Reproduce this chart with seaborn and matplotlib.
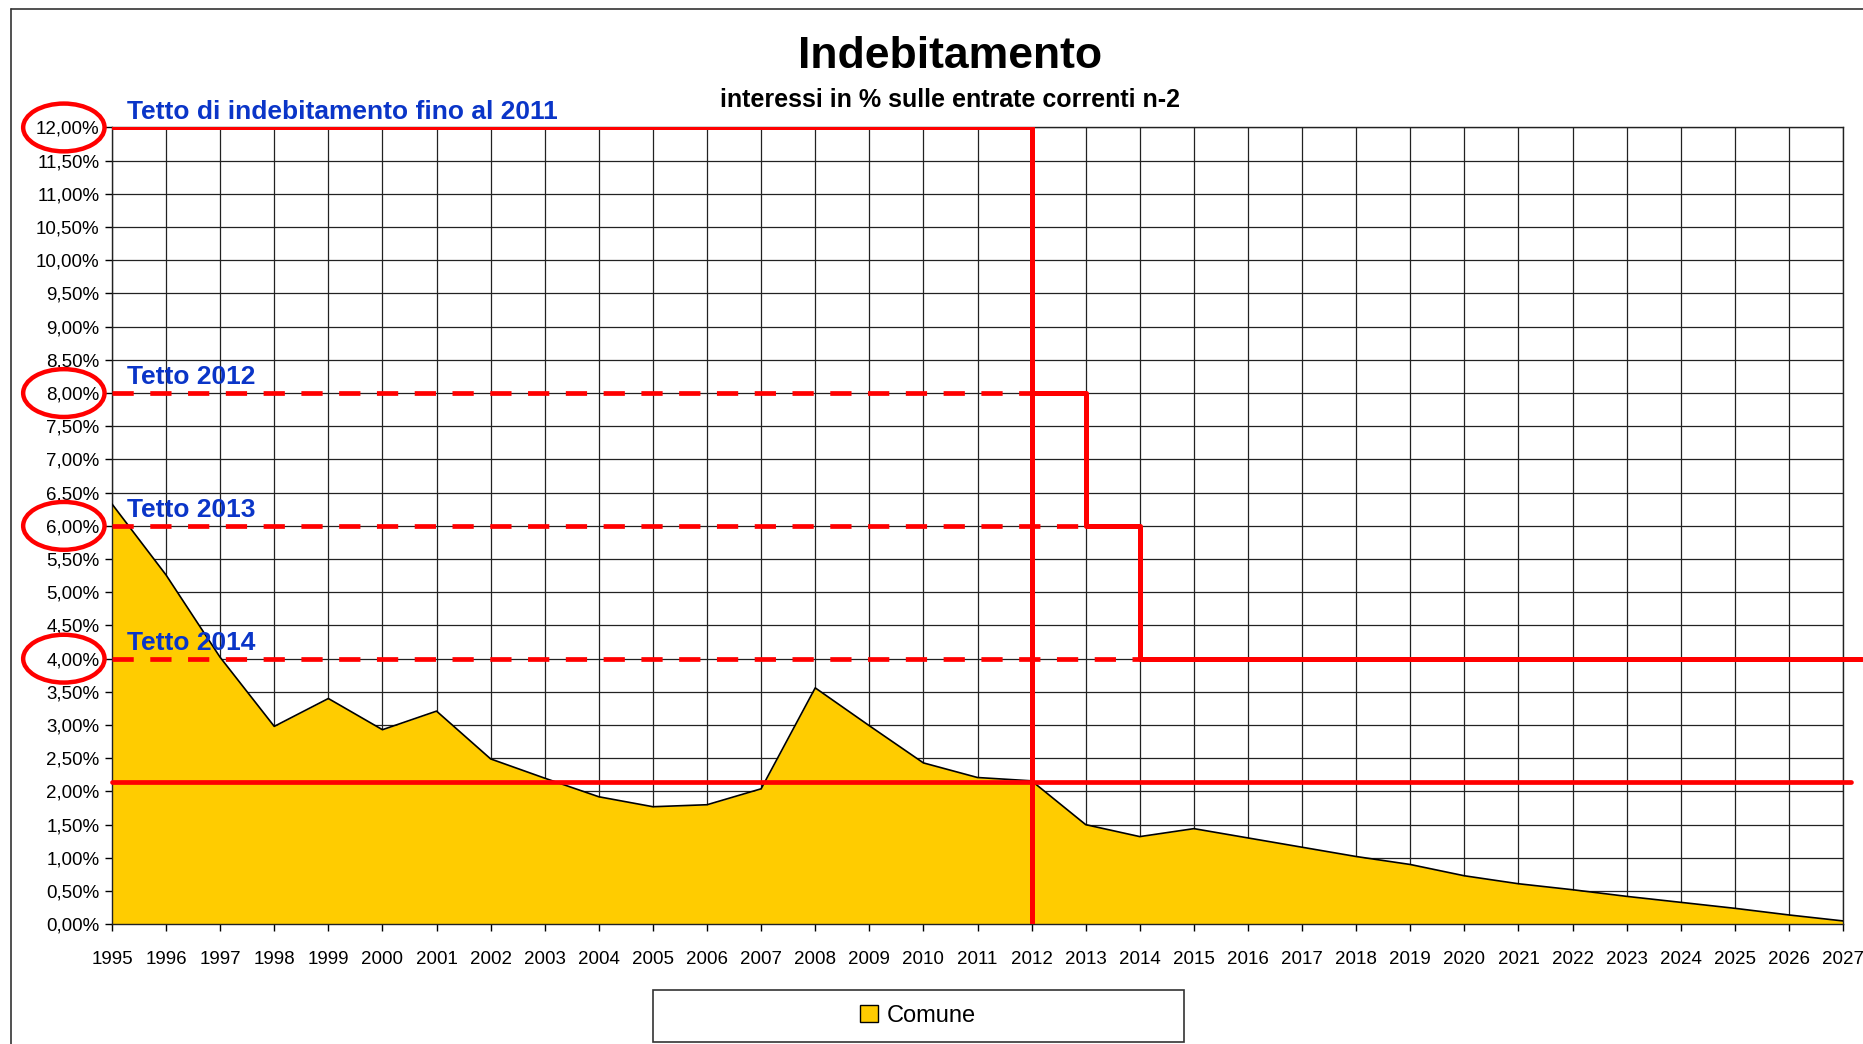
import numpy as np
import pandas as pd
import seaborn as sns
import matplotlib.pyplot as plt
import matplotlib.transforms as mtransforms
from matplotlib.patches import Ellipse, Rectangle, Patch
from matplotlib.lines import Line2D
from matplotlib.ticker import FuncFormatter, MultipleLocator

# data
anni = list(range(1995, 2028))
comune = [6.33, 5.26, 4.02, 2.98, 3.40, 2.93, 3.21, 2.49, 2.20, 1.92, 1.77, 1.80,
          2.04, 3.56, 2.99, 2.43, 2.21, 2.16, 1.50, 1.32, 1.44, 1.30, 1.16, 1.02,
          0.90, 0.73, 0.61, 0.52, 0.42, 0.33, 0.24, 0.14, 0.05]
tetti = [12.0, 8.0, 6.0, 4.0]
tetti_fine = [2012, 2012, 2013, 2014]
tetti_labels = ["Tetto di indebitamento fino al 2011", "Tetto 2012", "Tetto 2013", "Tetto 2014"]
scala_x = [2012, 2013, 2013, 2014, 2014, 2027.35]
scala_y = [8.0, 8.0, 6.0, 6.0, 4.0, 4.0]
media = 2.14

df = pd.DataFrame({"anno": anni, "Comune": comune})

sns.set_theme(style="white")
plt.rcParams['font.family'] = ['Liberation Sans', 'DejaVu Sans']
plt.rcParams['text.color'] = 'black'

fig = plt.figure(figsize=(18.63, 10.44), dpi=100)
ax = fig.add_axes([0.0601, 0.1147, 0.9292, 0.7632])

red = "#ff0000"
blue = "#0a35c8"
giallo = "#ffcc00"

ax.fill_between(df["anno"], 0, df["Comune"], color=giallo, linewidth=0, zorder=2)
sns.lineplot(data=df, x="anno", y="Comune", color="black", linewidth=1.2, ax=ax,
             zorder=3, legend=False)

# caps
for lv, fine in zip(tetti[1:], tetti_fine[1:]):
    ax.plot([1995, fine], [lv, lv], color=red, lw=3.4, ls=(0, (4.5, 3.5)), zorder=4,
            solid_capstyle="butt", dash_capstyle="butt")
ax.plot([1995, tetti_fine[0]], [tetti[0], tetti[0]], color=red, lw=3.6, zorder=5)
ax.plot([tetti_fine[0], tetti_fine[0]], [0, tetti[0]], color=red, lw=3.6, zorder=5)
ax.plot(scala_x, scala_y, color=red, lw=3.6, zorder=5, clip_on=False)
ax.plot([1995, 2027.15], [media, media], color=red, lw=3.4, zorder=5, clip_on=False)

# labels + ellipses
blend = mtransforms.blended_transform_factory(ax.transAxes, ax.transData)
for lv, txt in zip(tetti, tetti_labels):
    ax.text(1995.28, lv + 0.13, txt, color=blue, fontsize=19, fontweight="bold",
            va="baseline", ha="left", zorder=6)
    e = Ellipse((-0.0278, lv), 0.047, 0.72, transform=blend, fill=False,
                edgecolor=red, lw=3.2, clip_on=False, zorder=6)
    ax.add_patch(e)

ax.set_xlim(1995, 2027)
ax.set_ylim(0, 12)
ax.xaxis.set_major_locator(MultipleLocator(1))
ax.yaxis.set_major_locator(MultipleLocator(0.5))
ax.xaxis.set_major_formatter(FuncFormatter(lambda v, p: f"{int(round(v))}"))
ax.yaxis.set_major_formatter(FuncFormatter(lambda v, p: f"{v:.2f}%".replace(".", ",")))
ax.grid(True, color="#222222", lw=0.9, zorder=1)
ax.set_axisbelow(True)
ax.tick_params(axis="both", labelsize=13.5, colors="black", length=5, width=1,
               direction="out", left=True, bottom=True, pad=4)
ax.tick_params(axis="x", pad=14)
ax.set_xlabel("")
ax.set_ylabel("")
for s in ax.spines.values():
    s.set_color("#222222")
    s.set_linewidth(1)

fig.text(0.51, 1 - 56 / 1044, "Indebitamento", ha="center", va="center",
         fontsize=32, fontweight="bold", color="black")
fig.text(0.51, 1 - 100 / 1044, "interessi in % sulle entrate correnti n-2", ha="center",
         va="center", fontsize=18, fontweight="bold", color="black")

# outer frame (left and top edges)
fig.add_artist(Line2D([11 / 1863, 11 / 1863], [0, 1 - 9 / 1044], color="#333333", lw=1.2))
fig.add_artist(Line2D([11 / 1863, 1], [1 - 9 / 1044, 1 - 9 / 1044], color="#333333", lw=1.2))

# legend box
fig.add_artist(Rectangle((653 / 1863, 1 - 1042 / 1044), 531 / 1863, 52 / 1044,
                         transform=fig.transFigure, fill=False, edgecolor="#333333", lw=1.2))
handle = Patch(facecolor=giallo, edgecolor="black", linewidth=1)
fig.legend(handles=[handle], labels=["Comune"], loc="center",
           bbox_to_anchor=(918 / 1863, 1 - 1016 / 1044), frameon=False, fontsize=17,
           handlelength=0.75, handleheight=0.75, handletextpad=0.4)

fig.savefig("out.png", dpi=100)
